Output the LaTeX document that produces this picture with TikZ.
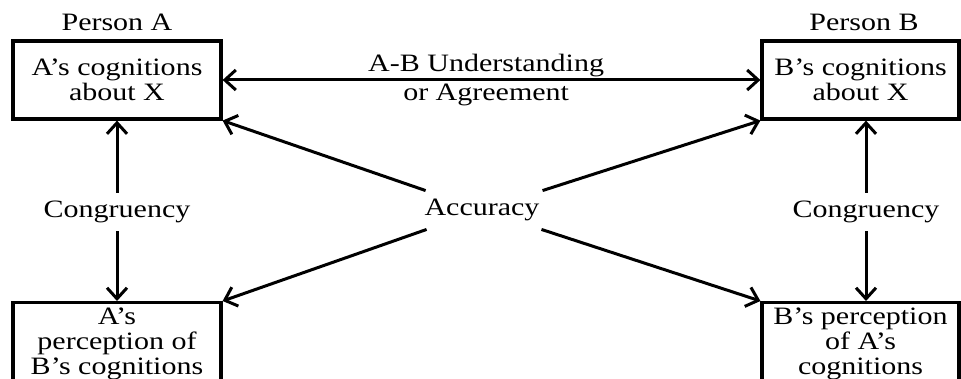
\documentclass[tikz,border=0pt]{standalone}
\usepackage{fontspec}
\setmainfont{Liberation Serif}[FakeStretch=1.2]
\usetikzlibrary{arrows.meta}
\begin{document}
\begin{tikzpicture}[x=0.5pt, y=-0.5pt
	, every node/.style={
	align=center
	, inner sep=1pt
	, font=\fontsize{12.5}{12.5}\selectfont
}, box/.style={
	draw
	, line width=1.6pt
	, minimum height=39pt
}, lbl/.style={
	inner xsep=4pt
	, inner ysep=3.5pt
}, >={Straight Barb[length=5.5pt,width=10pt]}, line width=1.5pt, ->]

\clip (0,0) rectangle (961,379);

% people
\node(pA) at(117,22) {Person A};
\node(pB) at(864,22) {Person B};

% boxes
\node[box, minimum width=104pt](A) at(117,80) {A’s cognitions\\about X};
\node[box, minimum width=98.5pt](B) at(860.5,80) {B’s cognitions\\about X};
\node[box, minimum width=104pt, inner ysep=2.5pt, anchor=north](PA) at(117,301) {A’s\\perception of\\B’s cognitions\\};
\node[box, minimum width=98.5pt, inner ysep=2.5pt, anchor=north](PB) at(860.5,301) {B’s perception\\of A’s\\cognitions\\};

% labels
\node[lbl](cA) at(117,212) {Congruency};
\node[lbl](cB) at(866,212) {Congruency};
\node[lbl](acc) at(482,210) {Accuracy};

\draw[<->] (A) -- (B)
	node[pos=0.49, above](ab1) {A-B Understanding}
	node[pos=0.49, below](ab2) {or Agreement};

\draw (cA) -- (A);
\draw (cA) -- (PA);
\draw (cB) -- (cB |- B.south);
\draw (cB) -- (cB |- PB.north);

\foreach \t in {A.south east, B.south west, PA.north east, PB.north west}{
	\draw (acc) -- (\t);
}

\end{tikzpicture}
\end{document}
